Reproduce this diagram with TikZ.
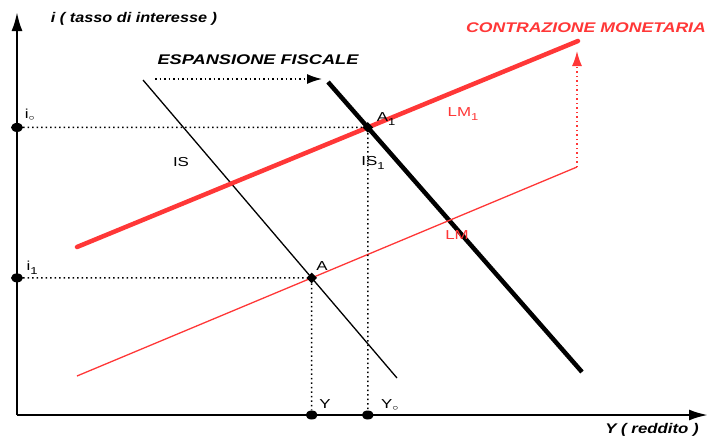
\documentclass[tikz,border=0pt]{standalone}
\usepackage{fontspec}
\setmainfont{Liberation Sans}
\usetikzlibrary{intersections,arrows.meta,shapes.geometric}
\definecolor{lmred}{RGB}{255,55,55}
\newcommand{\pedice}[1]{\raisebox{-4pt}{\fontsize{10}{12}\selectfont #1}}

\begin{document}
\begin{tikzpicture}[x=1pt,y=-1pt,
    axis/.style={line width=2.4pt,-{Latex[length=19pt,width=11pt]}},
    guide/.style={line width=1.5pt,dash pattern=on 1.5pt off 3pt},
    shiftarrow/.style={guide,-{Latex[length=15pt,width=10pt]}},
    axisdot/.style={ellipse,fill=black,inner sep=0pt,minimum width=12pt,minimum height=9pt},
    eqdot/.style={rectangle,rotate=45,fill=black,inner sep=0pt,minimum size=7.5pt},
    lbl/.style={font=\fontsize{13}{15}\selectfont,xscale=1.3},
    title/.style={font=\fontsize{14}{16}\selectfont\bfseries\itshape}]
  \useasboundingbox (0,0) rectangle (721,437);
  % assi
  \coordinate (O) at (17,415);
  \coordinate (ytop) at (17,12);
  \coordinate (xend) at (708,415);
  \draw[axis] (O) -- (ytop);
  \draw[axis] (O) -- (xend);
  \node[title,xscale=1.16] (ylab) at (134,19) {i ( tasso di interesse )};
  \node[title,xscale=1.2] (xlab) at (652,430) {Y ( reddito )};

  % curve IS e LM
  \coordinate (IStop) at (143,80);
  \coordinate (ISunotop) at (328,82);
  \coordinate (LMend) at (577,167);
  \coordinate (LMunoend) at (578,41);
  \draw[name path=IS,line width=1.3pt] (IStop) -- (397,378);
  \draw[name path=ISuno,line width=4.5pt] (ISunotop) -- (582,372);
  \draw[name path=LM,lmred,line width=1.3pt] (77,376) -- (LMend);
  \draw[name path=LMuno,lmred,line width=4.5pt,line cap=round] (77,247) -- (LMunoend);

  % punti di equilibrio
  \path[name intersections={of=IS and LM,by=pA}];
  \path[name intersections={of=ISuno and LMuno,by=pAuno}];
  \node[eqdot] (A) at (pA) {};
  \node[eqdot] (A1) at (pAuno) {};
  \node[axisdot] (i1) at (pA -| O) {};
  \node[axisdot] (i0) at (pAuno -| O) {};
  \node[axisdot] (Y) at (pA |- O) {};
  \node[axisdot] (Y0) at (pAuno |- O) {};
  \draw[guide] (i1) -- (A);
  \draw[guide] (i0) -- (A1);
  \draw[guide] (A) -- (Y);
  \draw[guide] (A1) -- (Y0);

  % spostamenti
  \draw[shiftarrow] ([xshift=12pt]IStop |- 0,79) -- (322,79);
  \draw[shiftarrow,lmred] (LMend) -- (577,51);
  \node[title,xscale=1.3] (espfisc) at (258,60) {ESPANSIONE FISCALE};
  \node[title,xscale=1.26,text=lmred] (contrmon) at (586,28) {CONTRAZIONE MONETARIA};

  % etichette
  \node[lbl] (i0lab) at (30,115) {i$_{\circ}$};
  \node[lbl] (i1lab) at (32,268) {i\pedice{1}};
  \node[lbl] (A1lab) at (386,119) {A\pedice{1}};
  \node[lbl] (Alab) at (322,266) {A};
  \node[lbl,text=lmred] (LMunolab) at (463,114) {LM\pedice{1}};
  \node[lbl] (ISunolab) at (373,163) {IS\pedice{1}};
  \node[lbl] (ISlab) at (181,162) {IS};
  \node[lbl,text=lmred] (LMlab) at (457,235) {LM};
  \node[lbl] (Ylab) at (325,404) {Y};
  \node[lbl] (Y0lab) at (390,405) {Y$_{\circ}$};
\end{tikzpicture}
\end{document}
